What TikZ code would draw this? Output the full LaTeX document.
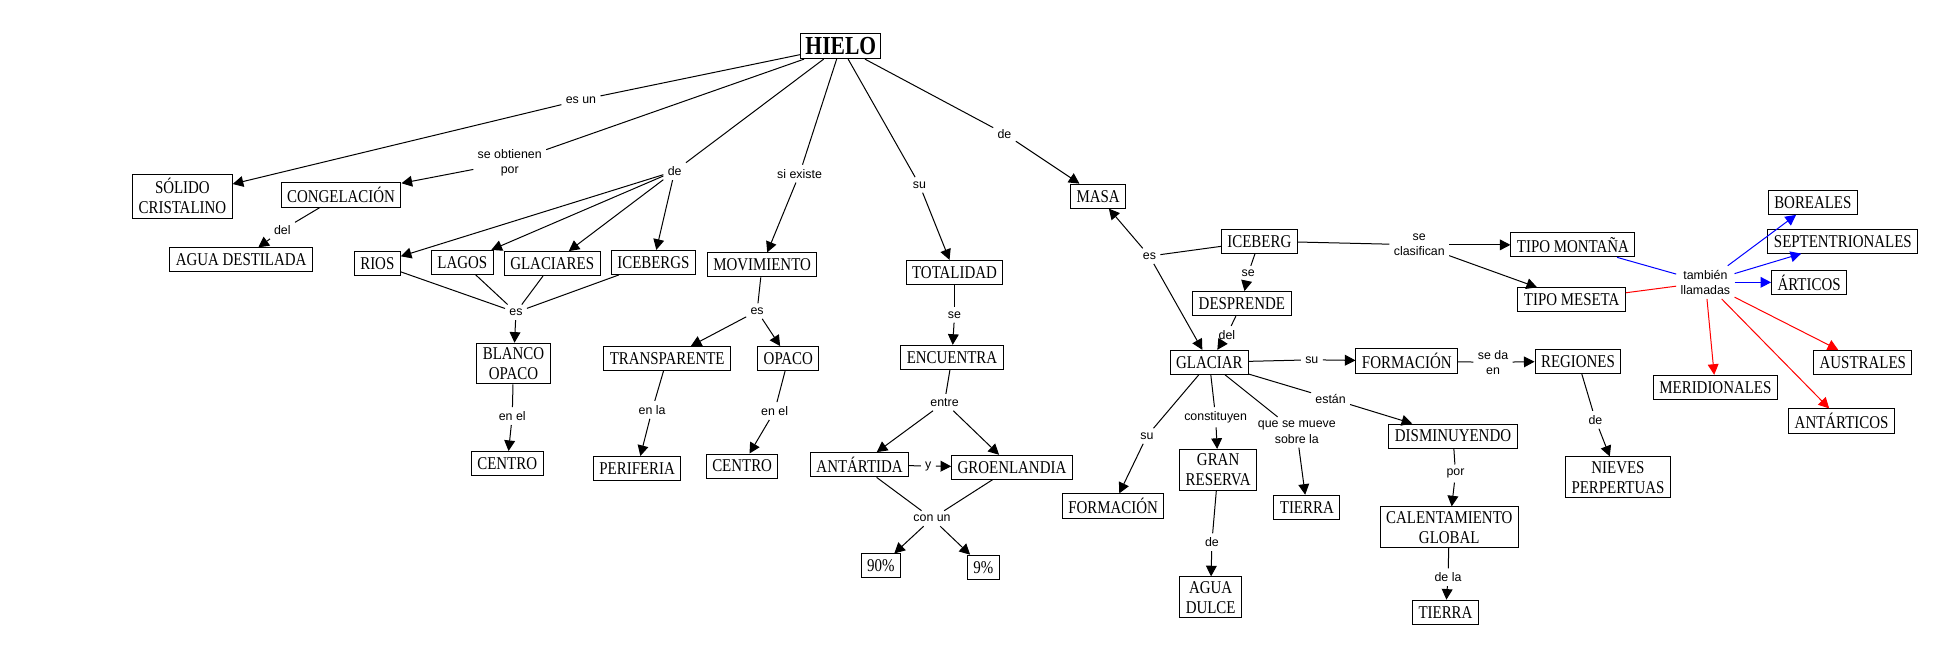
\documentclass[tikz,border=0pt]{standalone}
\usepackage{fontspec}
\usepackage{xcolor}
\usetikzlibrary{arrows.meta}
\newfontfamily\conceptfont[FakeStretch=0.83]{Liberation Serif}
\newfontfamily\linkfont{Liberation Sans}
\definecolor{linkblue}{RGB}{0,0,255}
\definecolor{linkred}{RGB}{255,0,0}

\begin{document}
\begin{tikzpicture}[
  x=0.625pt, y=-0.625pt,
  concept/.style={draw, line width=0.5pt, align=center, inner xsep=3pt,
    inner ysep=2.2pt, minimum height=12pt, text depth=0pt,
    font=\conceptfont\fontsize{9}{10}\selectfont},
  mainconcept/.style={concept, inner xsep=2.4pt, inner ysep=1.9pt,
    font=\conceptfont\bfseries\fontsize{13}{14}\selectfont},
  linklabel/.style={align=center, inner sep=2pt,
    font=\linkfont\fontsize{6.2}{7.6}\selectfont},
  connector/.style={line width=0.5pt},
  arrow/.style={line width=0.5pt, -{Triangle[length=5.3pt,width=5.4pt]}}
]
\useasboundingbox (0,0) rectangle (1568,530);

% concepts
\node[mainconcept] (hielo) at (673,37) {HIELO};
\node[concept] (solido)       at (146,157) {SÓLIDO\\CRISTALINO};
\node[concept] (congelacion)  at (273,156) {CONGELACIÓN};
\node[concept] (aguadest)     at (193,208) {AGUA DESTILADA};
\node[concept] (rios)         at (302,211) {RIOS};
\node[concept] (lagos)        at (370,210) {LAGOS};
\node[concept] (glaciares)    at (442,211) {GLACIARES};
\node[concept] (icebergs)     at (523,210) {ICEBERGS};
\node[concept] (movimiento)   at (610,212) {MOVIMIENTO};
\node[concept] (blanco)       at (411,291) {BLANCO\\OPACO};
\node[concept] (transparente) at (534,287) {TRANSPARENTE};
\node[concept] (opaco)        at (631,287) {OPACO};
\node[concept] (centroa)      at (406,371) {CENTRO};
\node[concept] (periferia)    at (510,375) {PERIFERIA};
\node[concept] (centrob)      at (594,373) {CENTRO};
\node[concept] (totalidad)    at (764,218) {TOTALIDAD};
\node[concept] (encuentra)    at (762,286) {ENCUENTRA};
\node[concept] (antartida)    at (688,372) {ANTÁRTIDA};
\node[concept] (groenlandia)  at (810,374) {GROENLANDIA};
\node[concept] (noventa)      at (705,453) {90\%};
\node[concept] (nueve)        at (787,454) {9\%};
\node[concept] (masa)         at (879,157) {MASA};
\node[concept] (iceberg)      at (1008,193) {ICEBERG};
\node[concept] (desprende)    at (994,243) {DESPRENDE};
\node[concept] (glaciar)      at (968,290) {GLACIAR};
\node[concept] (formacion)    at (1126,289) {FORMACIÓN};
\node[concept] (regiones)     at (1263,289) {REGIONES};
\node[concept] (nieves)       at (1295,382) {NIEVES\\PERPERTUAS};
\node[concept] (montana)      at (1259,196) {TIPO MONTAÑA};
\node[concept] (meseta)       at (1258,240) {TIPO MESETA};
\node[concept] (formacionb)   at (891,405) {FORMACIÓN};
\node[concept] (granreserva)  at (975,376) {GRAN\\RESERVA};
\node[concept] (tierraa)      at (1046,406) {TIERRA};
\node[concept] (disminuyendo) at (1163,349) {DISMINUYENDO};
\node[concept] (calentamiento) at (1160,422) {CALENTAMIENTO\\GLOBAL};
\node[concept] (tierrab)      at (1157,490) {TIERRA};
\node[concept] (aguadulce)    at (969,478) {AGUA\\DULCE};
\node[concept] (boreales)     at (1451,162) {BOREALES};
\node[concept] (septentrionales) at (1475,193) {SEPTENTRIONALES};
\node[concept] (articos)      at (1448,226) {ÁRTICOS};
\node[concept] (meridionales) at (1373,310) {MERIDIONALES};
\node[concept] (australes)    at (1491,290) {AUSTRALES};
\node[concept] (antarticos)   at (1474,337) {ANTÁRTICOS};

% linking words
\node[linklabel] (lesun)       at (465,80)  {es un};
\node[linklabel] (lobtienen)   at (408,130) {se obtienen\\por};
\node[linklabel] (lde)         at (540,137) {de};
\node[linklabel] (lsiexiste)   at (640,139) {si existe};
\node[linklabel] (lsu)         at (736,148) {su};
\node[linklabel] (ldemasa)     at (804,107) {de};
\node[linklabel] (ldel)        at (226,184) {del};
\node[linklabel] (les)         at (413,250) {es};
\node[linklabel] (lesmov)      at (606,249) {es};
\node[linklabel] (lenel)       at (410,333) {en el};
\node[linklabel] (lenla)       at (522,328) {en la};
\node[linklabel] (lenelb)      at (620,329) {en el};
\node[linklabel] (lse)         at (764,252) {se};
\node[linklabel] (lentre)      at (756,322) {entre};
\node[linklabel] (ly)          at (743,373) {y};
\node[linklabel] (lconun)      at (746,415) {con un};
\node[linklabel] (lesice)      at (920,205) {es};
\node[linklabel] (lseice)      at (999,219) {se};
\node[linklabel] (ldelgla)     at (982,268) {del};
\node[linklabel] (lclasifican) at (1136,196) {se\\clasifican};
\node[linklabel] (lsuform)     at (1050,288) {su};
\node[linklabel] (lsedaen)     at (1195,290) {se da\\en};
\node[linklabel] (ldereg)      at (1277,336) {de};
\node[linklabel] (lsub)        at (918,349) {su};
\node[linklabel] (lconstituyen) at (973,334) {constituyen};
\node[linklabel] (lmueve)      at (1038,346) {que se mueve\\sobre la};
\node[linklabel] (lestan)      at (1065,319) {están};
\node[linklabel] (ldeagua)     at (970,434) {de};
\node[linklabel] (lpor)        at (1165,379) {por};
\node[linklabel] (ldela)       at (1159,462) {de la};
\node[linklabel] (ltambien)    at (1365,226) {también\\llamadas};

% links from HIELO
\foreach \l in {lesun,lobtienen,lde,lsiexiste,lsu,ldemasa}
  \draw[connector] (hielo)--(\l);
\draw[arrow] (lesun)--(solido);
\draw[arrow] (lobtienen)--(congelacion);
\foreach \t in {rios,lagos,glaciares,icebergs}
  \draw[arrow] (lde)--(\t);
\draw[arrow] (lsiexiste)--(movimiento);
\draw[arrow] (lsu)--(totalidad);
\draw[arrow] (ldemasa)--(masa);

% left branch
\draw[connector] (congelacion)--(ldel);
\draw[arrow] (ldel)--(aguadest);
\foreach \s in {rios,lagos,glaciares,icebergs}
  \draw[connector] (\s)--(les);
\draw[arrow] (les)--(blanco);
\draw[connector] (blanco)--(lenel);
\draw[arrow] (lenel)--(centroa);
\draw[connector] (movimiento)--(lesmov);
\draw[arrow] (lesmov)--(transparente);
\draw[arrow] (lesmov)--(opaco);
\draw[connector] (transparente)--(lenla);
\draw[arrow] (lenla)--(periferia);
\draw[connector] (opaco)--(lenelb);
\draw[arrow] (lenelb)--(centrob);

% middle branch
\draw[connector] (totalidad)--(lse);
\draw[arrow] (lse)--(encuentra);
\draw[connector] (encuentra)--(lentre);
\draw[arrow] (lentre)--(antartida);
\draw[arrow] (lentre)--(groenlandia);
\draw[connector] (antartida)--(ly);
\draw[arrow] (ly)--(groenlandia);
\draw[connector] (antartida)--(lconun);
\draw[connector] (groenlandia)--(lconun);
\draw[arrow] (lconun)--(noventa);
\draw[arrow] (lconun)--(nueve);

% iceberg and glaciar
\draw[connector] (iceberg)--(lesice);
\draw[arrow] (lesice)--(masa);
\draw[arrow] (lesice)--(glaciar);
\draw[connector] (iceberg)--(lseice);
\draw[arrow] (lseice)--(desprende);
\draw[connector] (desprende)--(ldelgla);
\draw[arrow] (ldelgla)--(glaciar);
\draw[connector] (iceberg)--(lclasifican);
\draw[arrow] (lclasifican)--(montana);
\draw[arrow] (lclasifican)--(meseta);
\draw[connector] (glaciar)--(lsuform);
\draw[arrow] (lsuform)--(formacion);
\draw[connector] (formacion)--(lsedaen);
\draw[arrow] (lsedaen)--(regiones);
\draw[connector] (regiones)--(ldereg);
\draw[arrow] (ldereg)--(nieves);
\foreach \l in {lsub,lconstituyen,lmueve,lestan}
  \draw[connector] (glaciar)--(\l);
\draw[arrow] (lsub)--(formacionb);
\draw[arrow] (lconstituyen)--(granreserva);
\draw[arrow] (lmueve)--(tierraa);
\draw[arrow] (lestan)--(disminuyendo);
\draw[connector] (granreserva)--(ldeagua);
\draw[arrow] (ldeagua)--(aguadulce);
\draw[connector] (disminuyendo)--(lpor);
\draw[arrow] (lpor)--(calentamiento);
\draw[connector] (calentamiento)--(ldela);
\draw[arrow] (ldela)--(tierrab);

% other names
\draw[connector, linkblue] (montana)--(ltambien);
\foreach \t in {boreales,septentrionales,articos}
  \draw[arrow, linkblue] (ltambien)--(\t);
\draw[connector, linkred] (meseta)--(ltambien);
\foreach \t in {meridionales,australes,antarticos}
  \draw[arrow, linkred] (ltambien)--(\t);
\end{tikzpicture}
\end{document}
